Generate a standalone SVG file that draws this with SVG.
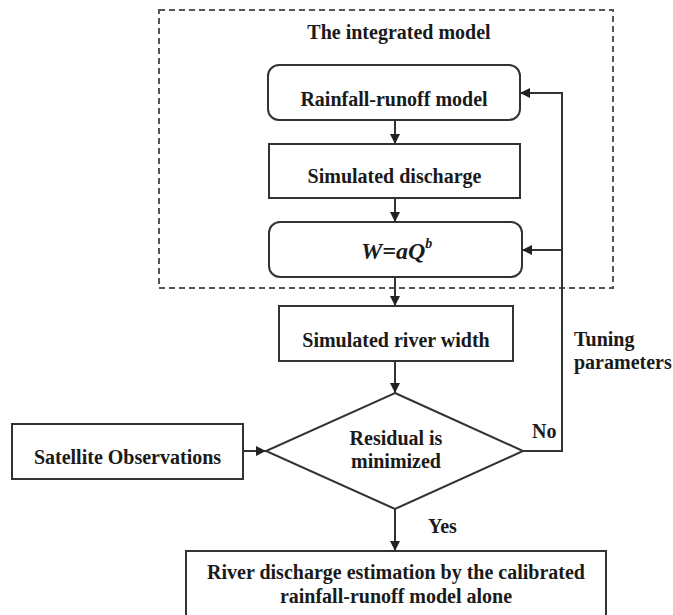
<svg xmlns="http://www.w3.org/2000/svg" width="673" height="615" viewBox="0 0 673 615">
<defs>
<marker id="arr" viewBox="0 0 10 10" refX="10" refY="5" markerWidth="10" markerHeight="10" markerUnits="userSpaceOnUse" orient="auto">
<path d="M0,0 L10,5 L0,10 Z" fill="#222"/>
</marker>
<style>
.box{fill:#fff;stroke:#333;stroke-width:2}
.line{fill:none;stroke:#333;stroke-width:2}
.t{font-family:"Liberation Serif","Times New Roman",serif;font-weight:bold;font-size:20px;fill:#1a1a1a}
.c{text-anchor:middle}
.eq{font-size:24px;font-style:italic}
.sup{font-size:14px}
</style>
</defs>
<rect width="673" height="615" fill="#fff"/>
<g id="integrated-model">
<rect x="159" y="10" width="454" height="278" fill="none" stroke="#555" stroke-width="2" stroke-dasharray="6 4"/>
<text class="t c" x="399" y="39">The integrated model</text>
</g>
<g id="rainfall-runoff">
<rect class="box" x="268" y="65" width="252" height="55" rx="11"/>
<text class="t c" x="394" y="106">Rainfall-runoff model</text>
</g>
<g id="simulated-discharge">
<rect class="box" x="269" y="144" width="251" height="54"/>
<text class="t c" x="394.5" y="183">Simulated discharge</text>
</g>
<g id="rating-curve">
<rect class="box" x="269" y="222" width="253" height="55" rx="11"/>
<text class="t eq" x="361" y="259">W=aQ<tspan class="sup" dy="-11">b</tspan></text>
</g>
<g id="simulated-width">
<rect class="box" x="279" y="306" width="234" height="55"/>
<text class="t c" x="396" y="347">Simulated river width</text>
</g>
<g id="residual">
<polygon class="box" points="395,393 523,451 395,509 266,451"/>
<text class="t c" x="396" y="445">Residual is</text>
<text class="t c" x="396" y="468">minimized</text>
</g>
<g id="satellite">
<rect class="box" x="12" y="424" width="231" height="55"/>
<text class="t c" x="127.5" y="464">Satellite Observations</text>
</g>
<g id="estimation">
<rect class="box" x="186" y="551" width="420" height="70"/>
<text class="t c" x="396" y="579">River discharge estimation by the calibrated</text>
<text class="t c" x="396" y="603">rainfall-runoff model alone</text>
</g>
<g id="connectors">
<line class="line" x1="395" y1="120" x2="395" y2="144" marker-end="url(#arr)"/>
<line class="line" x1="395" y1="198" x2="395" y2="222" marker-end="url(#arr)"/>
<line class="line" x1="395" y1="277" x2="395" y2="306" marker-end="url(#arr)"/>
<line class="line" x1="395" y1="361" x2="395" y2="393" marker-end="url(#arr)"/>
<line class="line" x1="395" y1="509" x2="395" y2="551" marker-end="url(#arr)"/>
<line class="line" x1="243" y1="451" x2="266" y2="451" marker-end="url(#arr)"/>
<polyline class="line" points="523,451 562,451 562,93 520,93" marker-end="url(#arr)"/>
<line class="line" x1="562" y1="250" x2="522" y2="250" marker-end="url(#arr)"/>
<text class="t" x="532" y="438">No</text>
<text class="t" x="428" y="533">Yes</text>
<text class="t" x="574" y="346">Tuning</text>
<text class="t" x="574" y="369">parameters</text>
</g>
</svg>
